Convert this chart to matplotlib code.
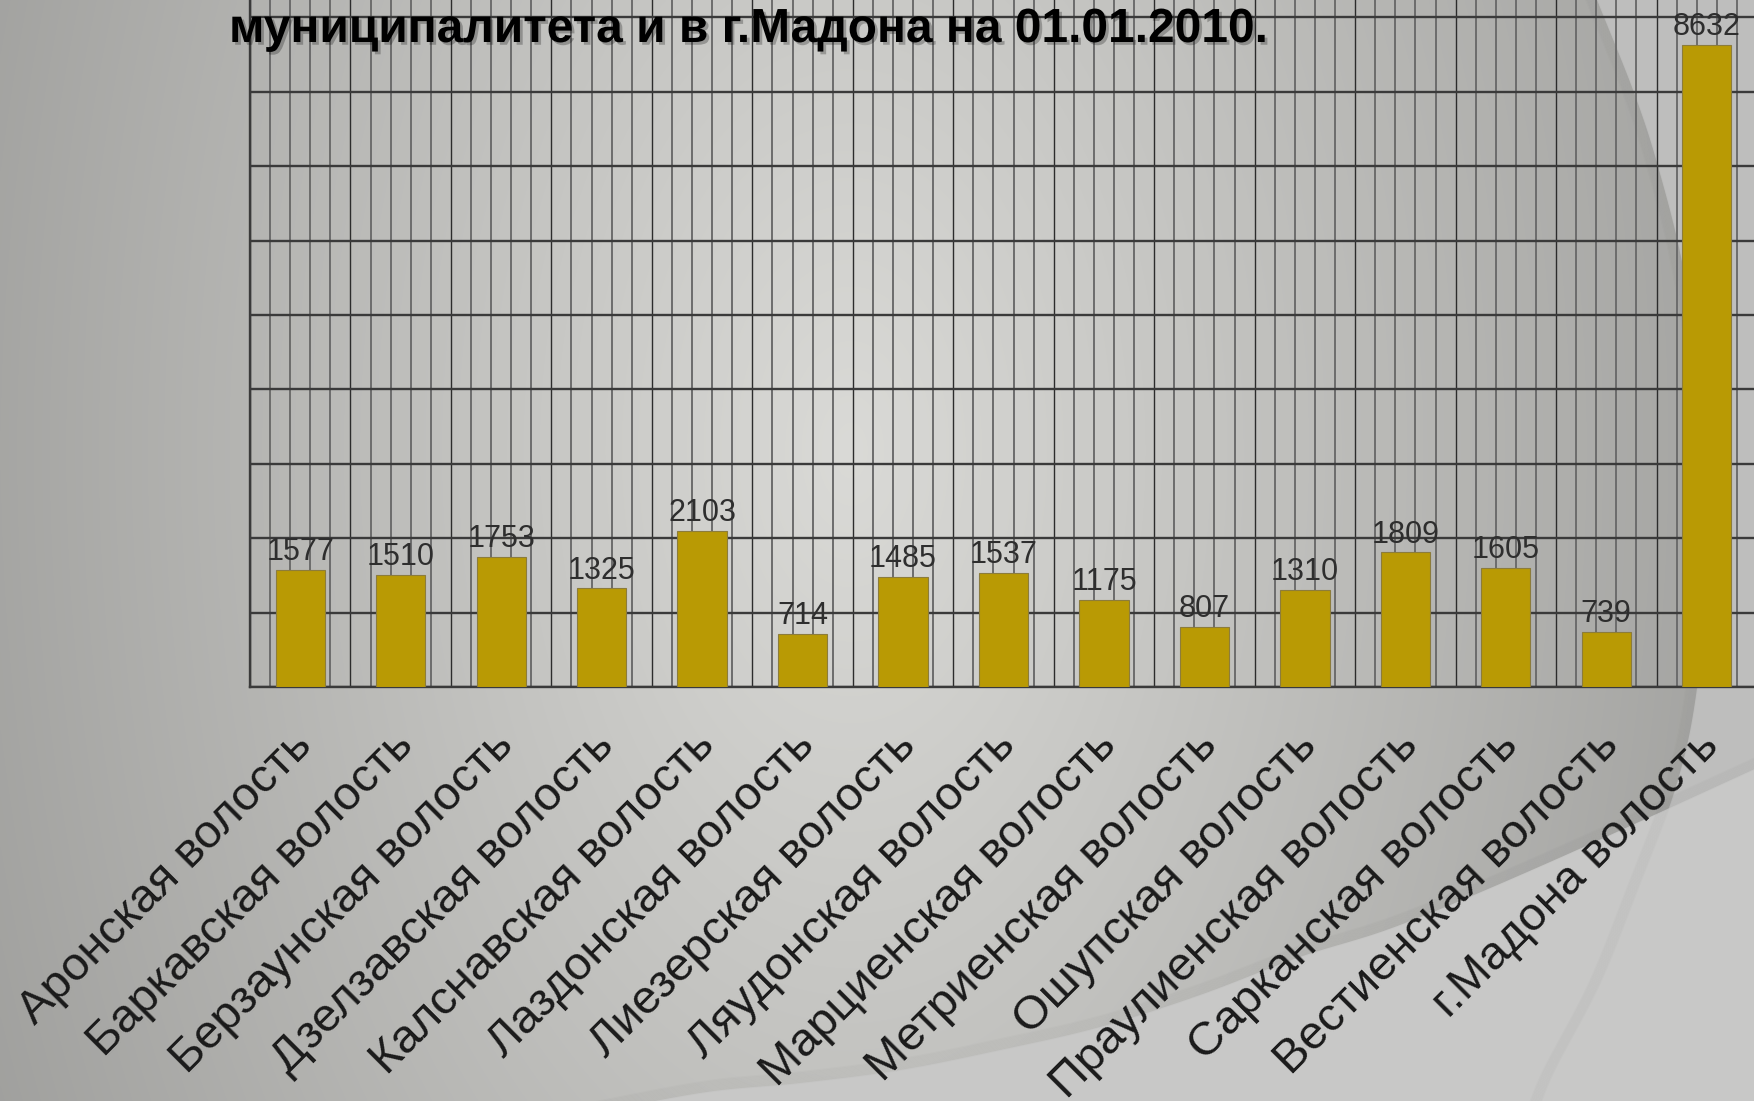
import numpy as np
import matplotlib.pyplot as plt
from matplotlib import patheffects
from matplotlib.transforms import blended_transform_factory, offset_copy

# data
categories = ['Аронская волость', 'Баркавская волость', 'Берзаунская волость',
              'Дзелзавская волость', 'Калснавская волость', 'Лаздонская волость',
              'Лиезерская волость', 'Ляудонская волость', 'Марциенская волость',
              'Метриенская волость', 'Ошупская волость', 'Праулиенская волость',
              'Сарканская волость', 'Вестиенская волость', 'г.Мадона волость']
population = [1577, 1510, 1753, 1325, 2103, 714, 1485, 1537, 1175, 807,
              1310, 1809, 1605, 739, 8632]
title_text = 'муниципалитета и в г.Мадона на 01.01.2010.'

W, H = 1754, 1101
plt.rcParams['font.family'] = ['Liberation Sans', 'DejaVu Sans']


def smooth(pts, n=20):
    # catmull-rom through a few guide points, for the slide decoration
    p = np.array(pts, float)
    p = np.vstack([p[0], p, p[-1]])
    out = []
    t = np.linspace(0, 1, n, endpoint=False)[:, None]
    for i in range(1, len(p) - 2):
        p0, p1, p2, p3 = p[i - 1], p[i], p[i + 1], p[i + 2]
        out.append(0.5 * (2 * p1 + (-p0 + p2) * t + (2 * p0 - 5 * p1 + 4 * p2 - p3) * t ** 2
                          + (-p0 + 3 * p1 - 3 * p2 + p3) * t ** 3))
    out.append(p[-2][None])
    return np.vstack(out)


fig = plt.figure(figsize=(W / 100, H / 100), dpi=100)

# slide background: grey gradient plus two swooshes
bg = fig.add_axes([0, 0, 1, 1], zorder=0)
bg.set_xlim(0, W)
bg.set_ylim(H, 0)
bg.axis('off')
yy, xx = np.mgrid[0:H:2, 0:W:2]
d = np.sqrt((xx - 850.0) ** 2 + ((yy - 450.0) * 0.6) ** 2)
v = np.clip(0.855 - 0.00024 * d, 0.55, 1.0)
img = np.dstack([v, v, v * 0.985])
bg.imshow(img, extent=(0, W, H, 0), aspect='auto', interpolation='bilinear')

arc = smooth([(1590, -20), (1597, 0), (1633, 90), (1657, 163), (1683, 267), (1703, 400),
              (1710, 540), (1697, 688), (1677, 783), (1640, 883), (1600, 983),
              (1553, 1073), (1535, 1120)])
lower = smooth([(560, 1120), (700, 1093), (800, 1083), (900, 1070), (1000, 1050),
                (1100, 1027), (1200, 995), (1300, 957), (1400, 925), (1550, 862),
                (1770, 762)])

right_poly = np.vstack([arc, [[W + 20, 1120], [W + 20, -20]]])
bg.fill(right_poly[:, 0], right_poly[:, 1], color='#bebebd', lw=0)
low_poly = np.vstack([lower, [[W + 20, 1120]]])
bg.fill(low_poly[:, 0], low_poly[:, 1], color='#c8c8c7', lw=0)
for k in range(10):
    bg.plot(arc[:, 0] - 1.2 * k, arc[:, 1], color='black', alpha=0.012, lw=1.5)
    bg.plot(lower[:, 0], lower[:, 1] - 1.2 * k, color='black', alpha=0.012, lw=1.5)

# chart
ax = fig.add_axes([250 / W, 1 - 687 / H, 1507 / W, 687 / H], zorder=1)
ax.patch.set_alpha(0)
x = np.arange(len(categories))
ax.set_xlim(-0.5, len(categories) - 0.5)
ax.set_ylim(0, 9234)

ax.set_xticks(np.arange(-0.5, len(categories), 1))
ax.set_xticks(np.arange(-0.5, len(categories) - 0.4, 0.2), minor=True)
ax.set_yticks(np.arange(0, 9001, 1000))
ax.tick_params(which='both', length=0, labelbottom=False, labelleft=False)
ax.grid(which='minor', axis='x', color='#6c6c6c', lw=1.4)
ax.grid(which='major', axis='x', color='#2c2c2c', lw=1.0)
ax.grid(which='major', axis='y', color='#3a3a3a', lw=1.7)
ax.set_axisbelow(True)
for s in ['top', 'right']:
    ax.spines[s].set_visible(False)
for s in ['left', 'bottom']:
    ax.spines[s].set_color('#3a3a3a')
    ax.spines[s].set_linewidth(1.7)

ax.bar(x, population, width=0.49, color='#b99a04', edgecolor='#8c7c3c', lw=0.8, zorder=3)

for i, val in enumerate(population):
    ax.annotate(str(val), (x[i], val), xytext=(0, 2), textcoords='offset points',
                ha='center', va='bottom', fontsize=22, color='#2e2e2e', zorder=4)

trans = blended_transform_factory(ax.transData, ax.transAxes)
lab_trans = offset_copy(trans, fig=fig, x=14, y=-60, units='dots')
for i, name in enumerate(categories):
    ax.text(x[i], 0, name, transform=lab_trans, rotation=45, rotation_mode='anchor',
            ha='right', va='baseline', fontsize=34, color='#1a1a1a', clip_on=False)

fig.text(229 / W, 1 - 42 / H, title_text, ha='left', va='baseline', fontsize=34.5,
         fontweight='bold', color='black',
         path_effects=[patheffects.withSimplePatchShadow(offset=(2, -2), shadow_rgbFace='black', alpha=0.25)])

fig.savefig('out.png', dpi=100)
